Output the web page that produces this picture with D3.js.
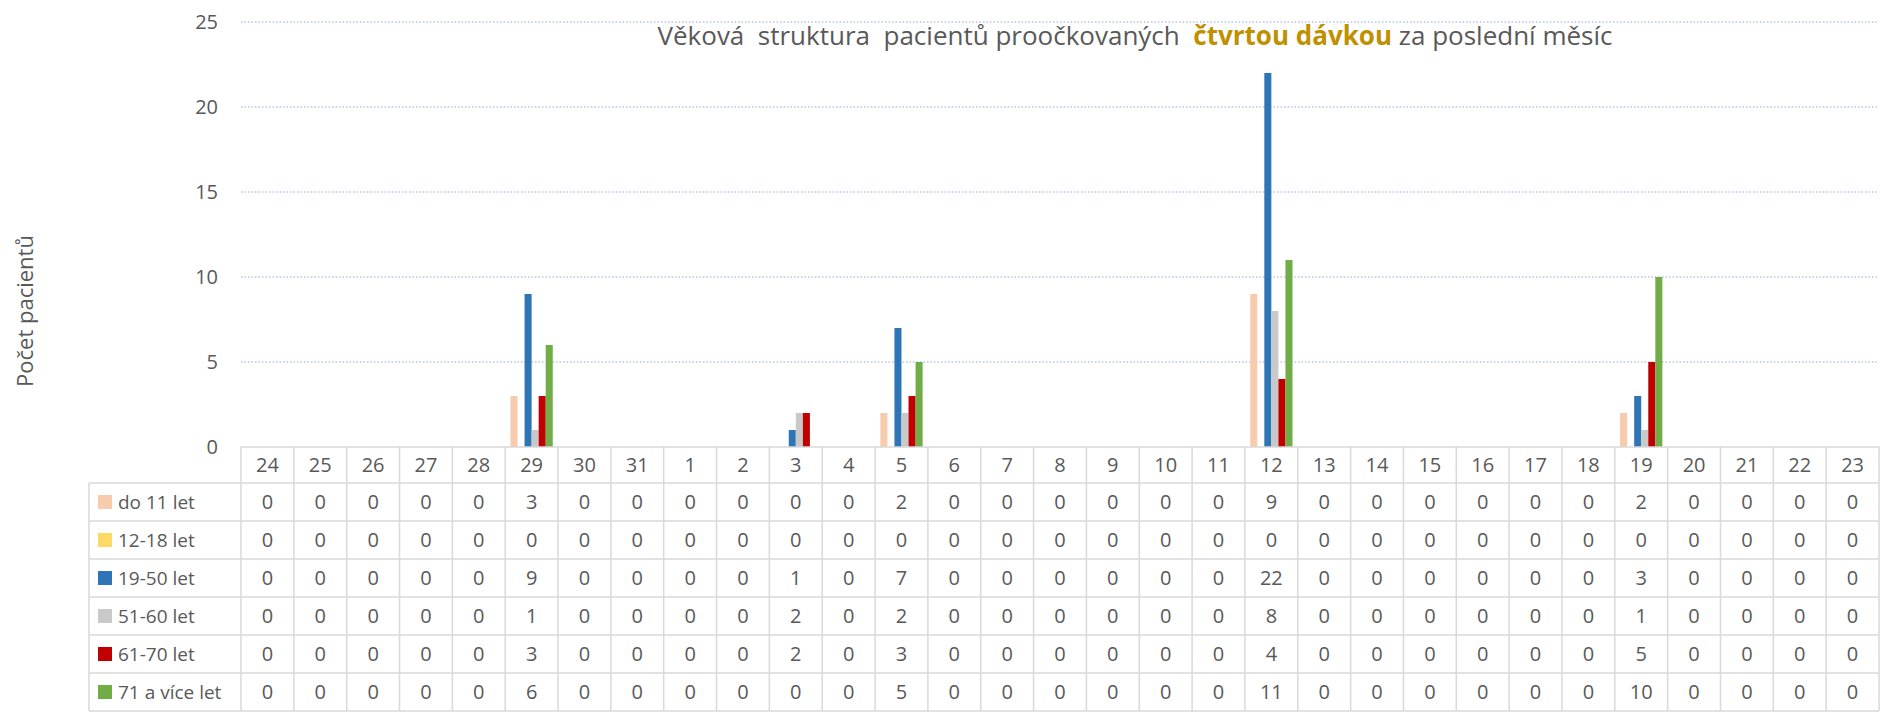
<!DOCTYPE html>
<html>
<head>
<meta charset="utf-8">
<script src="https://cdn.jsdelivr.net/npm/d3@7"></script>
<style>
  body { margin: 0; background: #fff; }
  svg { display: block; font-family: "Open Sans", "Noto Sans", sans-serif; }
</style>
</head>
<body>
<svg id="chart" width="1894" height="712"></svg>
<script>
// Days of the last month, as they run along the axis
var days = ["24", "25", "26", "27", "28", "29", "30", "31", "1", "2", "3", "4", "5",
            "6", "7", "8", "9", "10", "11", "12", "13", "14", "15", "16", "17", "18",
            "19", "20", "21", "22", "23"];

var seriesNames = ["do 11 let", "12-18 let", "19-50 let", "51-60 let", "61-70 let", "71 a více let"];
var seriesColors = ["#F8CBAD", "#FFD966", "#2E75B6", "#C9C9C9", "#C00000", "#70AD47"];

var doJedenact  = [0,0,0,0,0,3,0,0,0,0,0,0,2,0,0,0,0,0,0,9,0,0,0,0,0,0,2,0,0,0,0];
var dvanact18   = [0,0,0,0,0,0,0,0,0,0,0,0,0,0,0,0,0,0,0,0,0,0,0,0,0,0,0,0,0,0,0];
var devatenact  = [0,0,0,0,0,9,0,0,0,0,1,0,7,0,0,0,0,0,0,22,0,0,0,0,0,0,3,0,0,0,0];
var padesat     = [0,0,0,0,0,1,0,0,0,0,2,0,2,0,0,0,0,0,0,8,0,0,0,0,0,0,1,0,0,0,0];
var sedesat     = [0,0,0,0,0,3,0,0,0,0,2,0,3,0,0,0,0,0,0,4,0,0,0,0,0,0,5,0,0,0,0];
var sedmdesat   = [0,0,0,0,0,6,0,0,0,0,0,0,5,0,0,0,0,0,0,11,0,0,0,0,0,0,10,0,0,0,0];

var yTicks = [0, 5, 10, 15, 20, 25];

var values = [doJedenact, dvanact18, devatenact, padesat, sedesat, sedmdesat];

var svg = d3.select("#chart");

// plot area (note: "top" would clash with window.top)
var plotLeft = 241, plotRight = 1879, plotTop = 22, base = 447;
var legendLeft = 89, headerH = 36, rowH = 38;
var textColor = "#595959", lineColor = "#D9D9D9";

var x = d3.scaleBand().domain(days).range([plotLeft, plotRight]).paddingInner(0).paddingOuter(0);
var gap = x.bandwidth() * 0.1;
var xs = d3.scaleBand().domain(seriesNames).range([gap, x.bandwidth() - gap]);
var y = d3.scaleLinear().domain([0, 25]).range([base, plotTop]);

// Gridlines
svg.append("g")
    .selectAll("line")
    .data(yTicks.filter(function (t) { return t > 0; }))
    .join("line")
    .attr("x1", plotLeft).attr("x2", plotRight)
    .attr("y1", function (d) { return y(d); })
    .attr("y2", function (d) { return y(d); })
    .attr("stroke", "#B4C7E7")
    .attr("stroke-width", 1.3)
    .attr("stroke-dasharray", "1.5,2");

// Y axis tick labels
svg.append("g")
    .selectAll("text")
    .data(yTicks)
    .join("text")
    .attr("x", 218)
    .attr("y", function (d) { return y(d); })
    .attr("dy", "0.36em")
    .attr("text-anchor", "end")
    .attr("font-size", 20)
    .attr("fill", textColor)
    .text(function (d) { return d; });

// Y axis title
svg.append("text")
    .attr("transform", "translate(25,311) rotate(-90)")
    .attr("text-anchor", "middle")
    .attr("dy", "0.36em")
    .attr("font-size", 22)
    .attr("fill", textColor)
    .text("Počet pacientů");

// Bars
var groups = svg.append("g")
    .selectAll("g")
    .data(seriesNames)
    .join("g")
    .attr("fill", function (d, i) { return seriesColors[i]; });

groups.selectAll("rect")
    .data(function (name, i) {
        return days.map(function (day, j) { return { name: name, day: day, v: values[i][j] }; })
                   .filter(function (d) { return d.v > 0; });
    })
    .join("rect")
    .attr("x", function (d) { return x(d.day) + xs(d.name); })
    .attr("width", xs.bandwidth())
    .attr("y", function (d) { return y(d.v); })
    .attr("height", function (d) { return base - y(d.v); });

// Data table
var table = svg.append("g").attr("stroke", lineColor).attr("stroke-width", 1.5);
var tableBottom = base + headerH + rowH * seriesNames.length;

// horizontal lines
table.append("line").attr("x1", plotLeft).attr("x2", plotRight).attr("y1", base).attr("y2", base);
d3.range(seriesNames.length + 1).forEach(function (i) {
    var yy = base + headerH + i * rowH;
    table.append("line").attr("x1", legendLeft).attr("x2", plotRight).attr("y1", yy).attr("y2", yy);
});
// vertical lines
table.append("line").attr("x1", legendLeft).attr("x2", legendLeft)
    .attr("y1", base + headerH).attr("y2", tableBottom);
days.forEach(function (d) {
    table.append("line").attr("x1", x(d)).attr("x2", x(d)).attr("y1", base).attr("y2", tableBottom);
});
table.append("line").attr("x1", plotRight).attr("x2", plotRight).attr("y1", base).attr("y2", tableBottom);

// header labels
svg.append("g")
    .selectAll("text")
    .data(days)
    .join("text")
    .attr("x", function (d) { return x(d) + x.bandwidth() / 2; })
    .attr("y", base + headerH / 2)
    .attr("dy", "0.36em")
    .attr("text-anchor", "middle")
    .attr("font-size", 20)
    .attr("fill", textColor)
    .text(function (d) { return d; });

// rows
var rows = svg.append("g")
    .selectAll("g")
    .data(seriesNames)
    .join("g")
    .attr("transform", function (d, i) { return "translate(0," + (base + headerH + i * rowH + rowH / 2) + ")"; });

rows.append("rect")
    .attr("x", 98).attr("y", -7).attr("width", 14).attr("height", 14)
    .attr("fill", function (d, i) { return seriesColors[i]; });

rows.append("text")
    .attr("x", 118)
    .attr("dy", "0.36em")
    .attr("font-size", 19)
    .attr("fill", textColor)
    .text(function (d) { return d; });

rows.selectAll("text.val")
    .data(function (name, i) { return values[i].map(function (v, j) { return { day: days[j], v: v }; }); })
    .join("text")
    .attr("class", "val")
    .attr("x", function (d) { return x(d.day) + x.bandwidth() / 2; })
    .attr("dy", "0.36em")
    .attr("text-anchor", "middle")
    .attr("font-size", 20)
    .attr("fill", textColor)
    .text(function (d) { return d.v; });

// Title (keeps the wider gaps between words)
var title = svg.append("text")
    .attr("x", 1135)
    .attr("y", 45)
    .attr("text-anchor", "middle")
    .attr("font-size", 26)
    .style("white-space", "pre")
    .attr("fill", textColor);
title.append("tspan").text("Věková  struktura  pacientů proočkovaných  ");
title.append("tspan").attr("fill", "#BF9000").attr("font-weight", "bold").text("čtvrtou dávkou");
title.append("tspan").text(" za poslední měsíc");
</script>
</body>
</html>
